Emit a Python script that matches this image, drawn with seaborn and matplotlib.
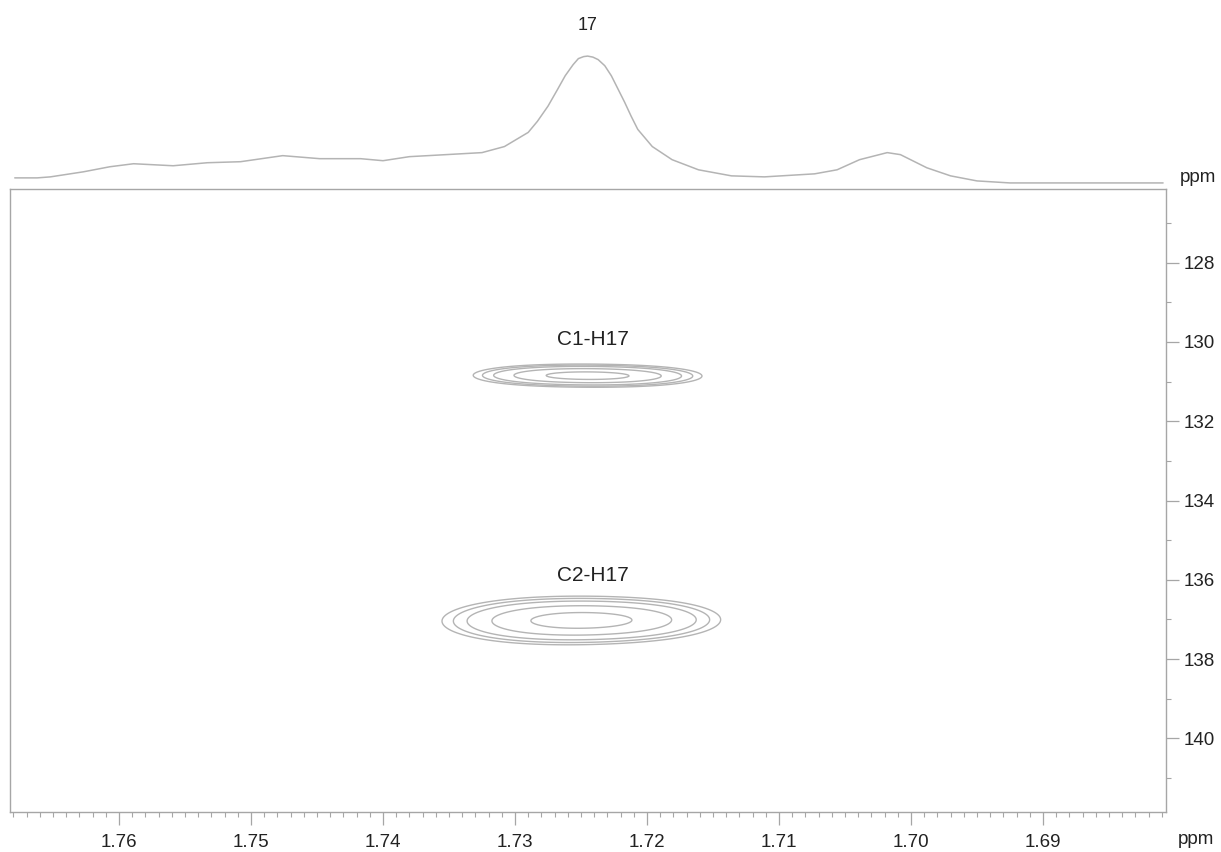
import numpy as np
import pandas as pd
import matplotlib
matplotlib.use("Agg")
import matplotlib.pyplot as plt
from matplotlib.ticker import MultipleLocator
import seaborn as sns

# ---------------- data ----------------
# 1D proton trace on top: chemical shift (ppm) and relative intensity
h_ppm = [1.7679, 1.7662, 1.7652, 1.7627, 1.7607, 1.7589, 1.7559, 1.7533,
         1.7508, 1.7476, 1.7448, 1.7417, 1.7400, 1.7380, 1.7366, 1.7325,
         1.7308, 1.7290, 1.7283, 1.7275, 1.7268, 1.7262, 1.7256, 1.7252,
         1.7248, 1.7245, 1.7241, 1.7237, 1.7232, 1.7227, 1.7222, 1.7217,
         1.7212, 1.7207, 1.7196, 1.7181, 1.7161, 1.7136,
         1.7111, 1.7073, 1.7056, 1.7039, 1.7018, 1.7008, 1.6988, 1.6970,
         1.6950, 1.6925, 1.6874, 1.6809]
h_int = [12, 12, 13, 18, 23, 26, 24, 27,
         28, 34, 31, 31, 29, 33, 34, 37,
         43, 57, 68, 83, 99, 113, 124, 130,
         132, 132.5, 131.5, 129, 123, 113, 100, 87,
         73, 60, 43, 30, 20, 14,
         13, 16, 20, 30, 37, 35, 22, 14,
         9, 7, 7, 7]

# 2D cross-peak components (H ppm, C ppm, H width, C width, amplitude)
pk_h   = [1.7280, 1.7245, 1.7210, 1.7297, 1.7264, 1.7232, 1.7199]
pk_c   = [130.84, 130.85, 130.86, 137.05, 137.02, 137.03, 137.00]
pk_wh  = [0.0033, 0.0033, 0.0033, 0.0040, 0.0040, 0.0040, 0.0038]
pk_wc  = [0.150, 0.150, 0.150, 0.320, 0.320, 0.310, 0.300]
pk_amp = [0.95, 1.00, 0.95, 0.85, 1.00, 0.90, 0.80]
contour_levels = [0.15, 0.21, 0.30, 0.50, 0.82]

peak_labels = ["C1-H17", "C2-H17"]
label_h = [1.7241, 1.7241]
label_c = [129.95, 135.88]
trace_label = "17"
trace_label_h = 1.7245

x_lim = (1.76826, 1.68068)
y_lim = (141.86, 126.14)
y_ticks = [128, 130, 132, 134, 136, 138, 140]
x_ticks = [1.76, 1.75, 1.74, 1.73, 1.72, 1.71, 1.70, 1.69]

# ---------------- style ----------------
sns.set_theme(style="white")
plt.rcParams['font.family'] = ['Liberation Sans', 'DejaVu Sans']
line_col = "#b4b4b4"
axis_col = "#a6a6a6"
text_col = "#222222"

W, H = 1221, 852
fig = plt.figure(figsize=(W / 100, H / 100), dpi=100)

# main 2D axes
ax = fig.add_axes([10 / W, (H - 812) / H, 1156 / W, 623 / H])
# top 1D axes
ax_top = fig.add_axes([10 / W, (H - 189) / H, 1156 / W, 189 / H])

# ---------------- 1D trace ----------------
df = pd.DataFrame({"ppm": h_ppm, "intensity": h_int})
sns.lineplot(data=df, x="ppm", y="intensity", ax=ax_top, color=line_col,
             linewidth=1.1, sort=False)
ax_top.set_xlim(*x_lim)
ax_top.set_ylim(1, 188)
ax_top.axis("off")
ax_top.text(trace_label_h, 163, trace_label, ha="center", va="center",
            fontsize=13, color=text_col)
ax_top.text(1.0 + 32 / 1156, 12, "ppm", transform=ax_top.get_yaxis_transform(),
            ha="center", va="center", fontsize=13.5, color=text_col)

# ---------------- 2D contours ----------------
hx = np.linspace(x_lim[1], x_lim[0], 800)
cy = np.linspace(y_lim[1], y_lim[0], 800)
HX, CY = np.meshgrid(hx, cy)
Z = np.zeros_like(HX)
for h0, c0, wh, wc, a in zip(pk_h, pk_c, pk_wh, pk_wc, pk_amp):
    Z += a * np.exp(-0.5 * ((HX - h0) / wh) ** 2 - 0.5 * ((CY - c0) / wc) ** 2)
# normalise each cross peak region separately
Z1 = np.where(CY < 134, Z, 0)
Z2 = np.where(CY >= 134, Z, 0)
Z = Z1 / Z1.max() + Z2 / Z2.max()
ax.contour(HX, CY, Z, levels=contour_levels, colors=line_col, linewidths=1.0)

for lab, lx, ly in zip(peak_labels, label_h, label_c):
    ax.text(lx, ly, lab, ha="center", va="center", fontsize=15, color=text_col)

ax.set_xlim(*x_lim)
ax.set_ylim(*y_lim)
ax.set_xticks(x_ticks)
ax.set_xticklabels([f"{v:.2f}" for v in x_ticks])
ax.xaxis.set_minor_locator(MultipleLocator(0.001))
ax.set_yticks(y_ticks)
ax.yaxis.set_minor_locator(MultipleLocator(1))
ax.yaxis.tick_right()
ax.xaxis.tick_bottom()
ax.tick_params(axis="both", which="major", direction="out", length=9,
               width=0.9, color=axis_col, labelsize=13.5, labelcolor=text_col)
ax.tick_params(axis="both", which="minor", direction="out", length=3.5,
               width=0.8, color=axis_col)
ax.tick_params(axis="y", which="major", pad=4)
ax.tick_params(axis="x", which="major", pad=7)
for s in ax.spines.values():
    s.set_color(axis_col)
    s.set_linewidth(1.0)
ax.set_xlabel("")
ax.set_ylabel("")
ax.text(1.0 + 30 / 1156, -28 / 623, "ppm", transform=ax.transAxes,
        ha="center", va="center", fontsize=13.5, color=text_col)

fig.savefig("out.png", dpi=100, facecolor="white")
